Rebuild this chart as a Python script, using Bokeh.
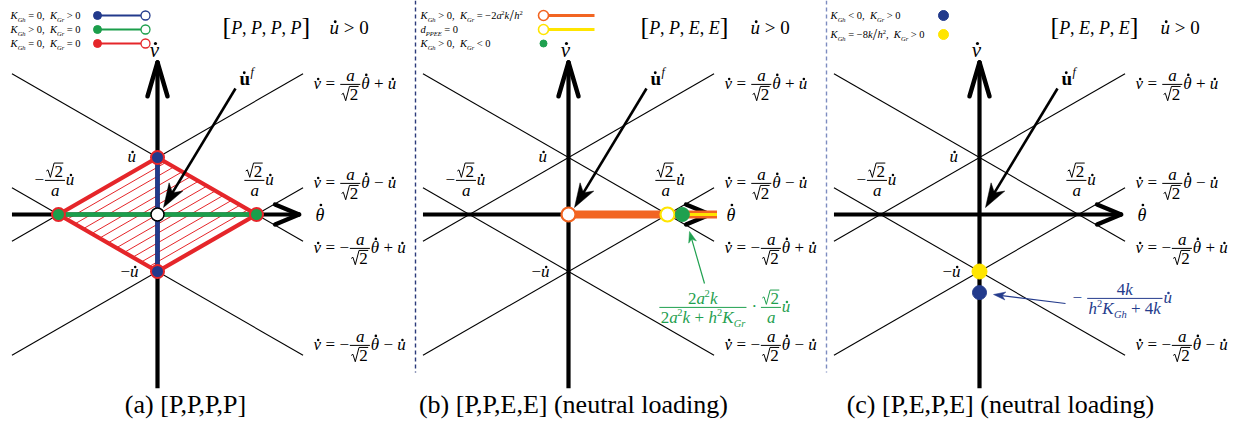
import re
import numpy as np
from bokeh.plotting import figure
from bokeh.models import Range1d, ColumnDataSource
from bokeh.core.properties import value
from bokeh.embed import file_html
from bokeh.resources import INLINE

# ---------------- data (normalised: v-intercept = u_dot = 1, theta-intercept = sqrt2/a*u_dot = 1)
u_dot = 1.0
theta_int = 1.0
bound_slopes = [1, 1, -1, -1]
bound_offsets = [1, -1, 1, -1]
bound_theta_range = [-1.47, 1.47]
theta_axis_range = [-1.47, 1.43]
v_axis_range = [-3.05, 2.67]
diamond_theta = [-1, 0, 1, 0, -1]
diamond_v = [0, 1, 0, -1, 0]
hatch_offsets = [0.83, 0.67, 0.5, 0.33, 0.17, 0.0, -0.17, -0.33, -0.5, -0.67, -0.83]
a_blue_v = [1, -1]
a_green_theta = [-1, 1]
b_orange_theta = [0.0, 1.5]
b_yellow_theta = [1.0, 1.5]
b_green_theta = 1.15
c_yellow_v = -1.0
c_navy_v = -1.37
captions = ["(a) [P,P,P,P]", "(b) [P,P,E,E] (neutral loading)", "(c) [P,E,P,E] (neutral loading)"]
title_states = [["P", "P", "P", "P"], ["P", "P", "E", "E"], ["P", "E", "P", "E"]]

# ---------------- layout / style
W_FIG, H_FIG = 1238, 421
OX = [157, 568, 979]
OY = 214
SX, SY = 99, 57
FONT = "Liberation Serif"
KB = 0.33  # measured offset of rendered text baseline (em)
RED = "#e5262a"; NAVY = "#223a8c"; GREEN = "#1b9e4b"; ORANGE = "#f26522"
YELLOW = "#ffe500"; AGREEN = "#1fa04f"; ANAVY = "#243b8c"

def X(i, th):
    return OX[i] + SX * th

def Y(v):
    return OY - SY * v

T = dict(x=[], y=[], t=[], s=[], st=[], c=[])
S = dict(x0=[], y0=[], x1=[], y1=[], c=[], w=[])
D = dict(x=[], y=[], s=[], c=[])

CW = {' ': .25, ',': .25, '(': .333, ')': .333, '[': .333, ']': .333, '=': .564, '+': .564,
      '>': .564, '<': .564, '\u2212': .564, '/': .3, '\u00b7': .25, 'a': .47, 'b': .5, 'c': .444,
      'd': .5, 'e': .444, 'f': .3, 'g': .5, 'h': .5, 'i': .278, 'k': .46, 'l': .278, 'n': .5,
      'o': .5, 'r': .36, 't': .278, 'u': .5, 'v': .46, '\u03b8': .5, 'E': .611, 'G': .722,
      'K': .68, 'P': .6, 'R': .667}

def tw(t):
    return sum(CW.get(ch, .5) for ch in t)

def raw(x, y, t, size, style, color):
    T["x"].append(x); T["y"].append(y - KB * size); T["t"].append(t)
    T["s"].append("%.1fpx" % size); T["st"].append(style); T["c"].append(color)

def put(x, y, t, size, style="italic", color="black"):
    # leading / repeated spaces are turned into offsets (SVG collapses whitespace)
    cx = x
    for tok in re.split(r"( {2,})", t):
        if not tok:
            continue
        lead = len(tok) - len(tok.lstrip(" "))
        core = tok.strip(" ")
        if core:
            raw(cx + tw(" " * lead) * size, y, core, size, style, color)
        cx += tw(tok) * size

def seg(x0, y0, x1, y1, c="black", w=1.0):
    S["x0"].append(x0); S["y0"].append(y0); S["x1"].append(x1); S["y1"].append(y1)
    S["c"].append(c); S["w"].append(w)

DOT = "*"  # marks a dotted (time-derivative) letter
def R(t): return (t, "normal", 1.0, 0.0)
def I(t): return (t, "italic", 1.0, 0.0)
def SUB(t): return (t, "italic", 0.62, 0.25)
def SUP(t): return (t, "normal", 0.62, -0.4)
def BR(t): return (t, "normal", 1.45, 0.1)
SQ2 = ("2", "sqrt", 1.0, 0.0)

def part_w(p, size):
    t, st, sc, dy = p
    if st == "sqrt":
        return 1.02 * size
    return tw(t.replace(DOT, "")) * sc * size

def rich_w(parts, size):
    return sum(part_w(p, size) for p in parts)

def rich(x, yb, parts, size, color="black", align="left"):
    if align == "center":
        x -= rich_w(parts, size) / 2
    for p in parts:
        t, st, sc, dy = p
        if st == "sqrt":
            pts = [(0.0, -0.33), (0.1, -0.4), (0.24, 0.04), (0.46, -0.8), (1.0, -0.8)]
            for (a0, b0), (a1, b1) in zip(pts[:-1], pts[1:]):
                seg(x + a0 * size, yb + b0 * size, x + a1 * size, yb + b1 * size, color, 1.0)
            put(x + 0.48 * size, yb, t, size, "normal", color)
        else:
            base = t.replace(DOT, "")
            put(x, yb + dy * size, base, sc * size, st, color)
            if DOT in t:
                ch = base[0]
                fs = sc * size
                hx = x + CW.get(ch, .5) * fs * (0.6 if st != "bold" else 0.5)
                hy = yb + dy * size - (0.86 if ch == "\u03b8" else 0.62) * fs
                D["x"].append(hx); D["y"].append(hy); D["s"].append(max(2.2, 0.15 * fs))
                D["c"].append(color)
        x += part_w(p, size)
    return x

def frac(x, ybar, num, den, size, color="black"):
    wn, wd = rich_w(num, size), rich_w(den, size)
    w = max(wn, wd) + 0.16 * size
    seg(x, ybar, x + w, ybar, color, 1.0)
    rich(x + w / 2, ybar - 0.22 * size, num, size, color, "center")
    rich(x + w / 2, ybar + 0.92 * size, den, size, color, "center")
    return w

def expr(x, yb, items, size, color="black"):
    for it in items:
        if isinstance(it, tuple) and it[0] == "frac":
            x += 0.05 * size
            x += frac(x, yb - 0.3 * size, it[1], it[2], size, color)
            x += 0.05 * size
        else:
            x = rich(x, yb, it, size, color)
    return x

def F(num, den):
    return ("frac", num, den)

UD = "u" + DOT; VD = "v" + DOT; TD = "\u03b8" + DOT; MINUS = "\u2212"

p = figure(width=W_FIG, height=H_FIG, x_range=Range1d(0, W_FIG), y_range=Range1d(H_FIG, 0),
           x_axis_type=None, y_axis_type=None, toolbar_location=None, output_backend="svg",
           min_border=0, outline_line_color=None, background_fill_color="white")
p.grid.visible = False

# ---- boundary lines of all panels
bx0, bx1, by0, by1 = [], [], [], []
for i in range(3):
    for s, o in zip(bound_slopes, bound_offsets):
        th0, th1 = bound_theta_range
        bx0.append(X(i, th0)); bx1.append(X(i, th1))
        by0.append(Y(s * th0 + o * u_dot)); by1.append(Y(s * th1 + o * u_dot))
p.segment(bx0, by0, bx1, by1, line_color="black", line_width=1.1)

# ---- panel (a) hatch
hx0, hx1, hy0, hy1 = [], [], [], []
for c in hatch_offsets:
    t0, t1 = (-theta_int - c) / 2, (theta_int - c) / 2
    hx0.append(X(0, t0)); hx1.append(X(0, t1)); hy0.append(Y(t0 + c)); hy1.append(Y(t1 + c))
p.segment(hx0, hy0, hx1, hy1, line_color=RED, line_width=1.0)

# ---- axes of all panels
for i in range(3):
    ta, tb = theta_axis_range
    va, vb = v_axis_range
    p.segment([X(i, ta), X(i, 0)], [Y(0), Y(va)], [X(i, tb), X(i, 0)], [Y(0), Y(vb)],
              line_color="black", line_width=4.2)
    tx, ty = X(i, tb), Y(0)
    p.segment([tx, tx], [ty, ty], [tx - 24, tx - 24], [ty - 10, ty + 10], line_color="black",
              line_width=4.5, line_cap="round")
    vx, vy = X(i, 0), Y(vb)
    p.segment([vx, vx], [vy, vy], [vx - 10, vx + 10], [vy + 34, vy + 34], line_color="black",
              line_width=4.5, line_cap="round")

# ---- panel (a) elastic region and paths
p.line([X(0, t) for t in diamond_theta], [Y(v) for v in diamond_v], line_color=RED,
       line_width=4.2, line_join="round")
p.line([X(0, 0)] * 2, [Y(v) for v in a_blue_v], line_color=NAVY, line_width=4.5)
p.line([X(0, t) for t in a_green_theta], [Y(0)] * 2, line_color=GREEN, line_width=4.5)

# ---- panel (b) loading path
p.line([X(1, t) for t in b_orange_theta], [Y(0)] * 2, line_color=ORANGE, line_width=8)
p.line([X(1, t) for t in b_yellow_theta], [Y(0)] * 2, line_color=YELLOW, line_width=3)

# ---- arrows
def arrow(x0, y0, x1, y1, color, lw, L, hw):
    d = np.array([x1 - x0, y1 - y0], float); d /= np.linalg.norm(d)
    n = np.array([-d[1], d[0]])
    tip = np.array([x1, y1], float)
    base = tip - L * d
    p.segment([x0], [y0], [base[0] + 0.3 * L * d[0]], [base[1] + 0.3 * L * d[1]],
              line_color=color, line_width=lw)
    pts = [tip, base + hw * n, tip - 0.72 * L * d, base - hw * n]
    p.patch([q[0] for q in pts], [q[1] for q in pts], fill_color=color, line_color=color,
            line_width=0.5)

for i in range(3):
    arrow(OX[i] + 78, OY - 126, OX[i] + 6, OY - 7, "black", 2.6, 24, 8)
    rich(OX[i] + 82, 84, [("u" + DOT, "bold", 1.0, 0.0)], 19)
    put(OX[i] + 93, 75, "f", 12, "italic")

arrow(704, 283, 689, 231, AGREEN, 1.2, 11, 4)
arrow(1065, 303, 993, 294, ANAVY, 1.2, 12, 4)

# ---- points
p.scatter([X(0, 0)] * 2, [Y(v) for v in a_blue_v], size=13, fill_color=NAVY, line_color=RED,
          line_width=2)
p.scatter([X(0, t) for t in a_green_theta], [Y(0)] * 2, size=13, fill_color=GREEN,
          line_color=RED, line_width=2)
p.scatter([X(0, 0)], [Y(0)], size=13, fill_color="white", line_color="black", line_width=1.5)
p.scatter([X(1, 0)], [Y(0)], size=14, fill_color="white", line_color=ORANGE, line_width=2.2)
p.scatter([X(1, theta_int)], [Y(0)], size=14, fill_color="white", line_color=YELLOW, line_width=2.2)
p.scatter([X(1, b_green_theta)], [Y(0)], size=14, fill_color=AGREEN, line_color=AGREEN)
p.scatter([X(2, 0)], [Y(c_yellow_v)], size=15, fill_color=YELLOW, line_color=YELLOW)
p.scatter([X(2, 0)], [Y(c_navy_v)], size=14, fill_color=NAVY, line_color=NAVY)

# ---- legends
LS = 10.5
leg_a = [
    [I("K"), SUB("Gh"), R(" = 0,  "), I("K"), SUB("Gr"), R(" > 0")],
    [I("K"), SUB("Gh"), R(" > 0,  "), I("K"), SUB("Gr"), R(" = 0")],
    [I("K"), SUB("Gh"), R(" = 0,  "), I("K"), SUB("Gr"), R(" = 0")],
]
leg_a_col = [NAVY, GREEN, RED]
for k, (parts, col) in enumerate(zip(leg_a, leg_a_col)):
    yy = 15 + 14 * k
    rich(10, yy + 3.5, parts, LS)
    p.line([97, 145], [yy, yy], line_color=col, line_width=2)
    p.scatter([97], [yy], size=8, fill_color=col, line_color=col)
    p.scatter([145], [yy], size=9, fill_color="white", line_color=col, line_width=1.3)

leg_b = [
    [I("K"), SUB("Gh"), R(" > 0,  "), I("K"), SUB("Gr"), R(" = " + MINUS + "2"), I("a"), SUP("2"),
     I("k"), ("/", "normal", 1.5, 0.12), I("h"), SUP("2")],
    [I("d"), SUB("PPEE"), R(" = 0")],
    [I("K"), SUB("Gh"), R(" > 0,  "), I("K"), SUB("Gr"), R(" < 0")],
]
for k, parts in enumerate(leg_b):
    rich(420, 15 + 14 * k + 3.5, parts, LS)
for k, col in enumerate([ORANGE, YELLOW]):
    yy = 15 + 14 * k
    p.line([543, 594], [yy, yy], line_color=col, line_width=3)
    p.scatter([543], [yy], size=10, fill_color="white", line_color=col, line_width=1.6)
p.scatter([543], [43], size=7, fill_color=AGREEN, line_color=AGREEN)

leg_c = [
    [I("K"), SUB("Gh"), R(" < 0,  "), I("K"), SUB("Gr"), R(" > 0")],
    [I("K"), SUB("Gh"), R(" = " + MINUS + "8"), I("k"), ("/", "normal", 1.5, 0.12), I("h"), SUP("2"),
     R(",  "), I("K"), SUB("Gr"), R(" > 0")],
]
for k, parts in enumerate(leg_c):
    rich(830, 15 + 19 * k + 3.5, parts, LS)
p.scatter([943], [15], size=10, fill_color=NAVY, line_color=NAVY)
p.scatter([943], [34], size=10, fill_color=YELLOW, line_color=YELLOW)

# ---- titles
title_x = [65, 72, 71]
u_x = [172, 182, 181]
for i in range(3):
    parts = [BR("[")]
    for k, st in enumerate(title_states[i]):
        parts.append(I(st))
        if k < 3:
            parts.append(R(", "))
    parts.append(BR("]"))
    rich(OX[i] + title_x[i], 33, parts, 18)
    rich(OX[i] + u_x[i], 33, [I(UD), R(" > 0")], 19)

# ---- axis labels and intercept labels
ES = 17
for i in range(3):
    ox = OX[i]
    rich(ox - 3, 56, [I(VD)], 21, align="center")
    rich(ox + 158, 220, [I(TD)], 18)
    rich(ox - 30, Y(u_dot) + 5, [I(UD)], ES)
    rich(ox - 37, Y(-u_dot) + 6, [R(MINUS), I(UD)], ES)
    expr(ox - 123, 185, [[R(MINUS)], F([SQ2], [I("a")]), [I(UD)]], ES)
    expr(ox + 86, 185, [F([SQ2], [I("a")]), [I(UD)]], ES)
    ex = ox + 156
    expr(ex, 89, [[I(VD), R(" = ")], F([I("a")], [SQ2]), [I(TD), R(" + "), I(UD)]], ES)
    expr(ex, 188, [[I(VD), R(" = ")], F([I("a")], [SQ2]), [I(TD), R(" " + MINUS + " "), I(UD)]], ES)
    expr(ex, 253, [[I(VD), R(" = " + MINUS)], F([I("a")], [SQ2]), [I(TD), R(" + "), I(UD)]], ES)
    expr(ex, 350, [[I(VD), R(" = " + MINUS)], F([I("a")], [SQ2]),
                   [I(TD), R(" " + MINUS + " "), I(UD)]], ES)

# ---- annotations
expr(658, 312, [F([R("2"), I("a"), SUP("2"), I("k")],
                  [R("2"), I("a"), SUP("2"), I("k"), R(" + "), I("h"), SUP("2"), I("K"), SUB("Gr")]),
                [R(" \u00b7 ")], F([SQ2], [I("a")]), [I(UD)]], ES, AGREEN)
expr(1072, 303, [[R(MINUS + " ")], F([R("4"), I("k")],
                                    [I("h"), SUP("2"), I("K"), SUB("Gh"), R(" + 4"), I("k")]),
                 [I(UD)]], ES, ANAVY)

# ---- captions
CS = 26
for cx, cap in zip([192, 578, 1005], captions):
    raw(cx - tw(cap) * CS / 2, 413, cap, CS, "normal", "black")

# ---- dividers
p.segment([415], [0], [415], [372], line_color="#2b3a7a", line_width=1.4, line_dash="4 3")
p.segment([826], [0], [826], [372], line_color="#7d8cc0", line_width=1.4, line_dash="4 3")

# ---- draw collected segments, dots and texts
p.segment("x0", "y0", "x1", "y1", source=ColumnDataSource(S), line_color="c", line_width="w")
p.scatter("x", "y", size="s", source=ColumnDataSource(D), fill_color="c", line_color=None)
p.text("x", "y", text="t", source=ColumnDataSource(T), text_font=value(FONT), text_font_size="s",
       text_font_style="st", text_color="c", text_baseline="alphabetic", text_align="left")

open("out.html", "w").write(file_html(p, INLINE))
